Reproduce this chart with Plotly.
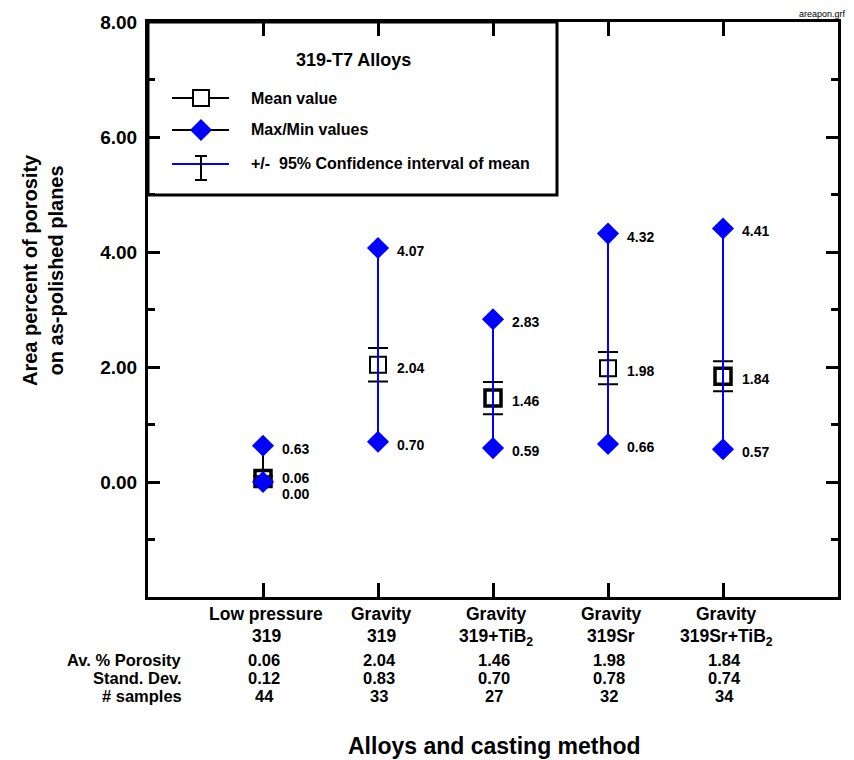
import plotly.graph_objects as go

# ---------------- data ----------------
categories_line1 = ["Low pressure", "Gravity", "Gravity", "Gravity", "Gravity"]
categories_line2 = ["319", "319", "319+TiB<sub>2</sub>", "319Sr", "319Sr+TiB<sub>2</sub>"]
x_pos = [1, 2, 3, 4, 5]
mean_vals = [0.06, 2.04, 1.46, 1.98, 1.84]
max_vals = [0.63, 4.07, 2.83, 4.32, 4.41]
min_vals = [0.00, 0.70, 0.59, 0.66, 0.57]
ci_half = [0.04, 0.29, 0.28, 0.28, 0.26]
std_dev = [0.12, 0.83, 0.70, 0.78, 0.74]
n_samples = [44, 33, 27, 32, 34]
y_tickvals = [0, 2, 4, 6, 8]
y_minorvals = [-1, 1, 3, 5, 7]

# ---------------- styles ----------------
FONT = "Liberation Sans, Arial, sans-serif"
BLUE = "#0000FF"
range_colors = ["black", BLUE, BLUE, BLUE, BLUE]
square_lw = [3.5, 2, 3.5, 2, 3.5]
mean_label_yshift = [1, -3, -3, -3, -3]
min_label_yshift = [-12, -3, -3, -3, -3]

W, H = 854, 760
L, R, T, B = 148, 16, 22, 163
PW, PH = W - L - R, H - T - B


def px(x):
    return (x - L) / PW


def py(y):
    return (H - B - y) / PH


fig = go.Figure()

# mean squares with 95% CI error bars
fig.add_trace(go.Scatter(
    x=x_pos, y=mean_vals, mode="markers",
    marker=dict(symbol="square", size=16, color="rgba(0,0,0,0)",
                line=dict(color="black", width=square_lw)),
    error_y=dict(type="data", array=ci_half, visible=True,
                 color="black", thickness=2, width=10),
    showlegend=False, hoverinfo="skip"))

# min-max range lines
for xi, lo, hi, c in zip(x_pos, min_vals, max_vals, range_colors):
    fig.add_trace(go.Scatter(x=[xi, xi], y=[lo, hi], mode="lines",
                             line=dict(color=c, width=2),
                             showlegend=False, hoverinfo="skip"))

# max / min diamonds
fig.add_trace(go.Scatter(x=x_pos, y=max_vals, mode="markers",
                         marker=dict(symbol="diamond", size=17, color=BLUE),
                         showlegend=False, hoverinfo="skip"))
fig.add_trace(go.Scatter(x=x_pos, y=min_vals, mode="markers",
                         marker=dict(symbol="diamond", size=17, color=BLUE),
                         showlegend=False, hoverinfo="skip"))

ann = []
lab_font = dict(family=FONT, size=14, color="black", weight="bold")
for i, xi in enumerate(x_pos):
    ann.append(dict(x=xi, y=max_vals[i], text=f"{max_vals[i]:.2f}", xref="x", yref="y",
                    showarrow=False, xanchor="left", xshift=17, yshift=-3, font=lab_font))
    ann.append(dict(x=xi, y=mean_vals[i], text=f"{mean_vals[i]:.2f}", xref="x", yref="y",
                    showarrow=False, xanchor="left", xshift=17, yshift=mean_label_yshift[i],
                    font=lab_font))
    ann.append(dict(x=xi, y=min_vals[i], text=f"{min_vals[i]:.2f}", xref="x", yref="y",
                    showarrow=False, xanchor="left", xshift=17, yshift=min_label_yshift[i],
                    font=lab_font))

# table below the axis
cat_font = dict(family=FONT, size=17.5, color="black", weight="bold")
tab_font = dict(family=FONT, size=16.5, color="black", weight="bold")
for i, xi in enumerate(x_pos):
    ann.append(dict(x=xi, y=py(614), xref="x", yref="paper", text=categories_line1[i],
                    showarrow=False, xanchor="center", yanchor="middle", xshift=3, font=cat_font))
    ann.append(dict(x=xi, y=py(624), xref="x", yref="paper", text=categories_line2[i],
                    showarrow=False, xanchor="center", yanchor="top", xshift=3, font=cat_font))
    ann.append(dict(x=xi, y=py(660), xref="x", yref="paper", text=f"{mean_vals[i]:.2f}",
                    showarrow=False, xanchor="center", yanchor="middle", xshift=1, font=tab_font))
    ann.append(dict(x=xi, y=py(678), xref="x", yref="paper", text=f"{std_dev[i]:.2f}",
                    showarrow=False, xanchor="center", yanchor="middle", xshift=1, font=tab_font))
    ann.append(dict(x=xi, y=py(696), xref="x", yref="paper", text=f"{n_samples[i]}",
                    showarrow=False, xanchor="center", yanchor="middle", xshift=1, font=tab_font))
for txt, yy in [("Av. % Porosity", 660), ("Stand. Dev.", 678), ("# samples", 696)]:
    ann.append(dict(x=px(184), y=py(yy), xref="paper", yref="paper", text=txt,
                    showarrow=False, xanchor="right", yanchor="middle", font=tab_font))

# axis titles
ann.append(dict(x=px(494), y=py(746), xref="paper", yref="paper",
                text="Alloys and casting method", showarrow=False,
                xanchor="center", yanchor="middle",
                font=dict(family=FONT, size=23, color="black", weight="bold")))
ann.append(dict(x=px(43), y=py(270), xref="paper", yref="paper",
                text="Area percent of porosity<br>on as-polished planes", showarrow=False,
                textangle=-90, xanchor="center", yanchor="middle",
                font=dict(family=FONT, size=20, color="black", weight="bold")))
ann.append(dict(x=px(848), y=py(14), xref="paper", yref="paper", text="areapon.grf",
                showarrow=False, xanchor="right", yanchor="middle",
                font=dict(family=FONT, size=9, color="black")))

# legend (drawn manually)
ann.append(dict(x=px(353), y=py(60), xref="paper", yref="paper", text="319-T7 Alloys",
                showarrow=False, xanchor="center", yanchor="middle",
                font=dict(family=FONT, size=18, color="black", weight="bold")))
leg_font = dict(family=FONT, size=16, color="black", weight="bold")
for txt, yy in [("Mean value", 98), ("Max/Min values", 130),
                ("+/-  95% Confidence interval of mean", 164)]:
    ann.append(dict(x=px(249), y=py(yy), xref="paper", yref="paper", text=txt,
                    showarrow=False, xanchor="left", yanchor="middle", font=leg_font))

shapes = []
# legend box
shapes.append(dict(type="rect", xref="paper", yref="paper", x0=px(148), x1=px(557),
                   y0=py(195), y1=py(22), line=dict(color="black", width=3)))
# row 1: line + square
shapes.append(dict(type="line", xref="paper", yref="paper", x0=px(172), x1=px(229),
                   y0=py(98), y1=py(98), line=dict(color="black", width=2)))
shapes.append(dict(type="rect", xref="paper", yref="paper", x0=px(193), x1=px(209),
                   y0=py(106), y1=py(90), fillcolor="white", line=dict(color="black", width=2)))
# row 2: line + diamond
shapes.append(dict(type="line", xref="paper", yref="paper", x0=px(172), x1=px(229),
                   y0=py(130), y1=py(130), line=dict(color="black", width=2)))
shapes.append(dict(type="path", xref="paper", yref="paper",
                   path=(f"M {px(201)},{py(119)} L {px(212)},{py(130)} "
                         f"L {px(201)},{py(141)} L {px(190)},{py(130)} Z"),
                   fillcolor=BLUE, line=dict(color=BLUE, width=0)))
# row 3: blue line + black I-beam
shapes.append(dict(type="line", xref="paper", yref="paper", x0=px(172), x1=px(229),
                   y0=py(164), y1=py(164), line=dict(color=BLUE, width=2)))
shapes.append(dict(type="line", xref="paper", yref="paper", x0=px(201), x1=px(201),
                   y0=py(156), y1=py(180), line=dict(color="black", width=2)))
shapes.append(dict(type="line", xref="paper", yref="paper", x0=px(195), x1=px(207),
                   y0=py(156), y1=py(156), line=dict(color="black", width=2)))
shapes.append(dict(type="line", xref="paper", yref="paper", x0=px(195), x1=px(207),
                   y0=py(180), y1=py(180), line=dict(color="black", width=2)))

fig.update_layout(
    width=W, height=H,
    margin=dict(l=L, r=R, t=T, b=B, pad=0),
    paper_bgcolor="white", plot_bgcolor="white",
    showlegend=False,
    annotations=ann, shapes=shapes,
    xaxis=dict(range=[0, 6], tickvals=x_pos, showticklabels=False,
               ticks="inside", ticklen=14, tickwidth=3, tickcolor="black",
               showline=True, linewidth=3, linecolor="black", mirror="ticks",
               showgrid=False, zeroline=False, fixedrange=True),
    yaxis=dict(range=[-2, 8], tickvals=y_tickvals, ticktext=[f"{v:.2f}" for v in y_tickvals],
               ticks="inside", ticklen=12, tickwidth=3, tickcolor="black",
               ticklabelstandoff=4,
               minor=dict(tickvals=y_minorvals, ticks="inside", ticklen=7, tickwidth=3,
                          tickcolor="black", showgrid=False),
               tickfont=dict(family=FONT, size=19, color="black", weight="bold"),
               showline=True, linewidth=3, linecolor="black", mirror="ticks",
               showgrid=False, zeroline=False, fixedrange=True),
)

fig.write_html("out.html")
